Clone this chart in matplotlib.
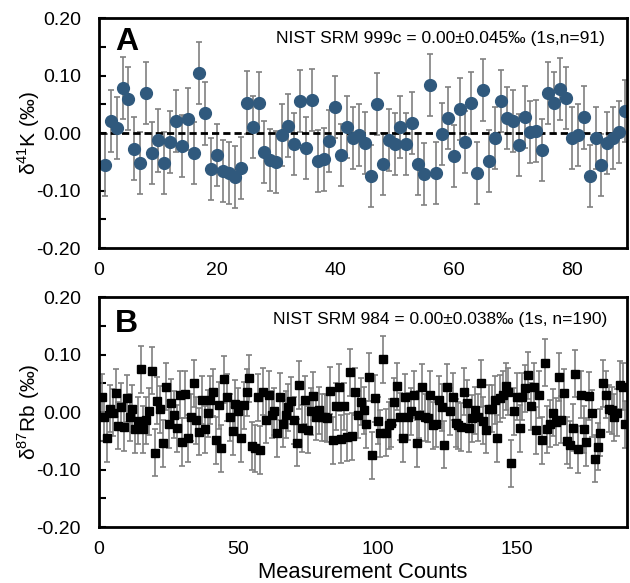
import numpy as np
import matplotlib
matplotlib.use("Agg")
import matplotlib.pyplot as plt
from matplotlib.ticker import MultipleLocator, FuncFormatter

plt.rcParams['font.family'] = ['Liberation Sans', 'DejaVu Sans']
plt.rcParams['mathtext.fontset'] = 'custom'
plt.rcParams['mathtext.rm'] = 'Liberation Sans'

# --- Data: NIST SRM 999c (delta 41K) ---
k_vals = [-0.056, 0.021, 0.009, 0.078, 0.060, -0.027, -0.052, 0.070, -0.035, -0.013,
          -0.052, -0.016, 0.021, -0.023, 0.025, -0.035, 0.105, 0.034, -0.062, -0.039,
          -0.066, -0.069, -0.076, -0.061, 0.053, 0.010, 0.052, -0.033, -0.047, -0.050,
          -0.004, 0.013, -0.019, 0.056, -0.026, 0.057, -0.049, -0.046, -0.014, 0.045,
          -0.039, 0.011, -0.009, -0.004, -0.017, -0.074, 0.050, -0.054, -0.012, -0.019,
          0.011, -0.019, 0.018, -0.054, -0.071, 0.083, -0.069, -0.002, 0.026, -0.040,
          0.041, -0.016, 0.052, -0.069, 0.075, -0.049, -0.008, 0.056, 0.026, 0.021,
          -0.021, 0.028, 0.002, 0.003, -0.030, 0.069, 0.052, 0.077, 0.061, -0.008,
          -0.003, 0.027, -0.074, -0.008, -0.056, -0.017, -0.009, 0.001, 0.038]
k_err = 0.054

# --- Data: NIST SRM 984 (delta 87Rb) ---
rb_vals = [0.026, -0.009, -0.046, 0.006, -0.001, 0.033, -0.024, 0.009, -0.026, 0.024,
           -0.009, 0.006, -0.030, -0.015, 0.074, -0.030, -0.014, 0.001, 0.072, -0.071,
           0.020, 0.005, -0.054, 0.044, -0.021, 0.016, -0.005, -0.028, 0.030, -0.052,
           0.031, -0.046, -0.009, 0.050, -0.014, -0.034, 0.021, -0.030, -0.002, 0.021,
           0.034, -0.049, 0.012, -0.063, 0.057, 0.026, -0.009,
           -0.033, 0.014, 0.001, -0.046, 0.012, 0.034, 0.059, -0.059, -0.063, 0.026,
           -0.066, 0.035, -0.013, 0.030, -0.005, 0.001, -0.037, 0.027, -0.020, -0.005,
           0.008, 0.020, -0.014, -0.053, 0.047, -0.028, 0.021, -0.031, 0.001, 0.028,
           -0.008, 0.003, -0.009, -0.009, -0.011, 0.037, -0.049, 0.010, 0.043, -0.047,
           0.010, -0.044, 0.069, -0.042, 0.035, -0.005,
           0.018, 0.003, -0.021, 0.061, -0.075, 0.024, -0.015, -0.037, 0.092, -0.036,
           -0.023, -0.019, 0.018, 0.045, -0.008, -0.046, 0.026, -0.008, 0.001, 0.030,
           -0.054, -0.005, 0.043, -0.009, -0.011, 0.030, -0.023, -0.020, 0.021, 0.008,
           -0.057, 0.043, 0.001, 0.027, -0.019, -0.023, -0.026, 0.035, 0.015, -0.028,
           -0.011, 0.003, -0.009, 0.050, -0.015, -0.031, 0.006,
           0.006, 0.021, -0.046, 0.024, 0.030, 0.045, 0.035, -0.089, 0.001, 0.027,
           -0.028, 0.027, 0.041, 0.064, 0.010, 0.044, -0.032, 0.030, -0.049, 0.086,
           -0.030, -0.020, -0.001, -0.017, 0.061, -0.013, 0.033, -0.050, -0.057, -0.027,
           0.067, -0.065, 0.030, -0.030, -0.052, 0.028, -0.002, -0.081, -0.060, -0.036,
           0.050, 0.030, 0.006, 0.003, -0.009, -0.001, 0.047, 0.044, -0.021]
rb_err = 0.041

k_x = np.arange(1, len(k_vals) + 1)
rb_x = np.arange(1, len(rb_vals) + 1)

fig = plt.figure(figsize=(6.3, 5.83), dpi=100)
ax_a = fig.add_axes([0.157, 0.5746, 0.838, 0.3945])
ax_b = fig.add_axes([0.157, 0.0960, 0.838, 0.3945])

# labels only on the 0.1 ticks, plain marks on the 0.05 ones
yfmt = FuncFormatter(lambda v, p: f"{v:.2f}" if abs(round(v / 0.1) * 0.1 - v) < 1e-6 else "")


def style_axes(ax):
    ax.set_ylim(-0.2, 0.2)
    ax.yaxis.set_major_locator(MultipleLocator(0.05))
    ax.yaxis.set_major_formatter(yfmt)
    ax.tick_params(axis='y', direction='in', length=5, width=1.5, labelsize=14, pad=13)
    ax.tick_params(axis='x', length=0, labelsize=14, pad=10)
    for s in ax.spines.values():
        s.set_linewidth(2)
    ax.yaxis.set_label_coords(-0.107, 0.5)


# --- Panel A ---
ax_a.errorbar(k_x, k_vals, yerr=k_err, fmt='o', color='#30597d', ms=8.5,
              ecolor='#808080', elinewidth=1.2, capsize=2.4, capthick=1.2)
ax_a.axhline(0, color='black', linestyle=(0, (2.6, 1.45)), linewidth=2)
ax_a.set_xlim(0, 89.3)
ax_a.xaxis.set_major_locator(MultipleLocator(20))
style_axes(ax_a)
ax_a.set_ylabel('δ$^{\\mathregular{41}}$K (‰)', fontsize=15)
ax_a.text(0.03, 0.86, 'A', transform=ax_a.transAxes, fontsize=23, fontweight='bold')
ax_a.text(0.958, 0.91, 'NIST SRM 999c = 0.00±0.045‰ (1s,n=91)', transform=ax_a.transAxes,
          fontsize=12.5, ha='right', va='center')

# --- Panel B ---
ax_b.errorbar(rb_x, rb_vals, yerr=rb_err, fmt='s', color='black', ms=6,
              ecolor='#808080', elinewidth=1.2, capsize=2.4, capthick=1.2)
ax_b.set_xlim(0, 189.5)
ax_b.xaxis.set_major_locator(MultipleLocator(50))
style_axes(ax_b)
ax_b.set_ylabel('δ$^{\\mathregular{87}}$Rb (‰)', fontsize=15)
ax_b.set_xlabel('Measurement Counts', fontsize=15.8, labelpad=3)
ax_b.text(0.03, 0.85, 'B', transform=ax_b.transAxes, fontsize=23, fontweight='bold')
ax_b.text(0.962, 0.904, 'NIST SRM 984 = 0.00±0.038‰ (1s, n=190)', transform=ax_b.transAxes,
          fontsize=12.5, ha='right', va='center')

fig.savefig('out.png', dpi=100)
